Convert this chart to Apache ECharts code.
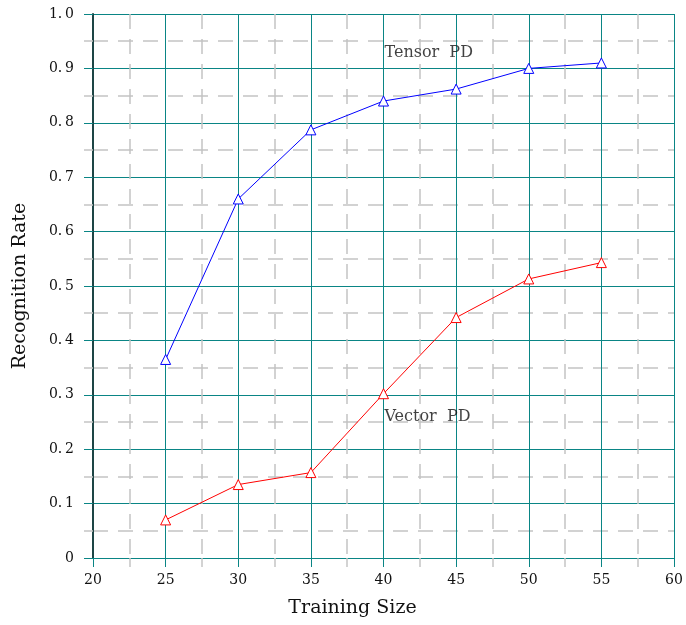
<!DOCTYPE html>
<html>
<head>
<meta charset="utf-8">
<script src="https://cdn.jsdelivr.net/npm/echarts@6/dist/echarts.min.js"></script>
<style>
    html, body { margin: 0; padding: 0; background: #fff; }
    #chart { width: 686px; height: 625px; }
</style>
</head>
<body>
<div id="chart"></div>
<script>
// 数据
const trainingSize = [25, 30, 35, 40, 45, 50, 55];
const tensorPD = [0.365, 0.66, 0.787, 0.84, 0.862, 0.9, 0.91];
const vectorPD = [0.07, 0.135, 0.157, 0.302, 0.442, 0.513, 0.543];
const seriesNames = ["Tensor PD", "Vector PD"];
const labelPos = [[40, 0.928], [40, 0.26]];

const font = "'DejaVu Serif', 'Liberation Serif', serif";
const teal = "#0a8585";
const dashGray = "#c4c4c4";

const chart = echarts.init(document.getElementById("chart"));

const option = {
    animation: false,
    grid: { left: 93, right: 12, top: 14, bottom: 67 },
    xAxis: {
        type: "value",
        min: 20,
        max: 60,
        interval: 5,
        name: "Training Size",
        nameLocation: "middle",
        nameGap: 41,
        nameTextStyle: { fontFamily: font, fontSize: 19, color: "#111", padding: [0, 62, 0, 0] },
        axisLine: { show: false },
        axisTick: { show: true, length: 9, lineStyle: { color: teal } },
        axisLabel: { margin: 15, fontFamily: font, fontSize: 14, color: "#111" },
        splitLine: { lineStyle: { color: teal, width: 1 } },
        minorTick: { show: true, splitNumber: 2, length: 9, lineStyle: { color: dashGray, type: [15, 10], width: 1.5 } },
        minorSplitLine: { show: true, lineStyle: { color: dashGray, type: [15, 10], width: 1.5 } },
    },
    yAxis: {
        type: "value",
        min: 0,
        max: 1,
        interval: 0.1,
        name: "Recognition Rate",
        nameLocation: "middle",
        nameGap: 63,
        nameTextStyle: { fontFamily: font, fontSize: 19, color: "#111" },
        axisLine: { show: true, onZero: false, lineStyle: { color: "#1d4545", width: 2 } },
        axisTick: { show: true, length: 9, lineStyle: { color: teal } },
        axisLabel: {
            margin: 19,
            fontFamily: font,
            fontSize: 14,
            color: "#111",
            formatter: (v) => (v === 0 ? "0" : v.toFixed(1).replace(".", ".\u2009")),
        },
        splitLine: { lineStyle: { color: teal, width: 1 } },
        minorTick: { show: true, splitNumber: 2, length: 9, lineStyle: { color: dashGray, type: [15, 10], width: 1.5 } },
        minorSplitLine: { show: true, lineStyle: { color: dashGray, type: [15, 10], width: 1.5 } },
    },
    series: [
        {
            name: seriesNames[0],
            type: "line",
            data: trainingSize.map((x, i) => [x, tensorPD[i]]),
            symbol: "triangle",
            symbolSize: 10,
            showAllSymbol: true,
            lineStyle: { color: "#0000ff", width: 1 },
            itemStyle: { color: "#fff", borderColor: "#0000ff", borderWidth: 1 },
            z: 5,
        },
        {
            name: seriesNames[1],
            type: "line",
            data: trainingSize.map((x, i) => [x, vectorPD[i]]),
            symbol: "triangle",
            symbolSize: 10,
            showAllSymbol: true,
            lineStyle: { color: "#ff0000", width: 1 },
            itemStyle: { color: "#fff", borderColor: "#ff0000", borderWidth: 1 },
            z: 5,
        },
        {
            type: "scatter",
            symbolSize: 0,
            silent: true,
            data: labelPos.map((p, i) => ({ value: p, name: seriesNames[i] })),
            label: {
                show: true,
                position: "right",
                distance: 1,
                formatter: (p) => p.name.replace(" ", "  "),
                fontFamily: font,
                fontSize: 16,
                color: "#111",
            },
            z: 6,
        },
    ],
};

chart.setOption(option);
</script>
</body>
</html>
